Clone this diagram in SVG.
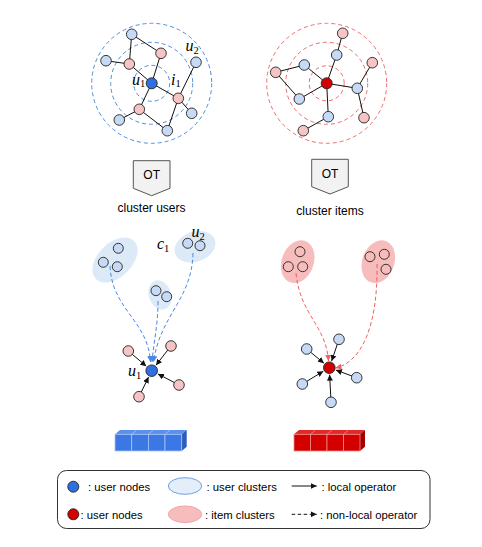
<svg xmlns="http://www.w3.org/2000/svg" width="482" height="547" viewBox="0 0 482 547">
<defs>
<style>
.bn{fill:#c6d9f5;stroke:#222;stroke-width:0.9}
.pn{fill:#f6c4c4;stroke:#222;stroke-width:0.9}
.un{fill:#2f6fe0;stroke:#222;stroke-width:0.9}
.rn{fill:#d40000;stroke:#222;stroke-width:0.9}
.cn{fill:none;stroke:#222;stroke-width:0.9}
.e{stroke:#111;stroke-width:1;fill:none}
.ea{stroke:#111;stroke-width:1;fill:none;marker-end:url(#ak)}
.bc{fill:none;stroke:#4d8fdb;stroke-width:1;stroke-dasharray:4 3}
.rc{fill:none;stroke:#f26b6b;stroke-width:1;stroke-dasharray:4 3}
.bd{fill:none;stroke:#4a86e8;stroke-width:1;stroke-dasharray:4 2.5;marker-end:url(#ab)}
.rd{fill:none;stroke:#f06060;stroke-width:1;stroke-dasharray:4 2.5;marker-end:url(#ar)}
.bel{fill:#dce9f7}
.rel{fill:#f7bcbc}
.t{font-family:"Liberation Sans",Arial,sans-serif;font-size:12px;fill:#000}
.lg{font-family:"Liberation Sans",Arial,sans-serif;font-size:11.3px;fill:#000}
.m{font-family:"Liberation Serif","Times New Roman",serif;font-style:italic;font-size:16px;fill:#000}
.s{font-style:normal;font-size:10.5px}
.ot{fill:#f2f2f2;stroke:#555;stroke-width:1}
</style>
<marker id="ak" viewBox="0 0 10 10" refX="10" refY="5" markerWidth="6" markerHeight="6" markerUnits="userSpaceOnUse" orient="auto"><path d="M0,0 L10,5 L0,10 z" fill="#111"/></marker>
<marker id="ab" viewBox="0 0 10 10" refX="10" refY="5" markerWidth="6" markerHeight="6" markerUnits="userSpaceOnUse" orient="auto"><path d="M0,0 L10,5 L0,10 z" fill="#4a86e8"/></marker>
<marker id="ar" viewBox="0 0 10 10" refX="10" refY="5" markerWidth="6" markerHeight="6" markerUnits="userSpaceOnUse" orient="auto"><path d="M0,0 L10,5 L0,10 z" fill="#f06060"/></marker>
</defs>
<rect width="482" height="547" fill="#fff"/>

<!-- top-left rings -->
<g id="tl-rings">
<circle class="bc" cx="151.7" cy="83.3" r="60"/>
<circle class="bc" cx="151.7" cy="83.3" r="41"/>
<circle class="bc" cx="151.7" cy="83.3" r="18"/>
</g>
<!-- top-right rings -->
<g id="tr-rings">
<circle class="rc" cx="326.7" cy="83.3" r="60"/>
<circle class="rc" cx="326.7" cy="83.3" r="41"/>
<circle class="rc" cx="326.7" cy="83.3" r="17.5"/>
</g>

<!-- bottom clusters -->
<g id="bl-cluster-a"><ellipse class="bel" cx="115" cy="260" rx="27" ry="17" transform="rotate(-45 115 260)"/>
<circle class="bn" cx="118.3" cy="248.3" r="5"/><circle class="bn" cx="103.3" cy="262.3" r="5"/><circle class="bn" cx="117.3" cy="266.7" r="5"/></g>
<g id="bl-cluster-c1"><ellipse class="bel" cx="160" cy="295" rx="11" ry="15" transform="rotate(-20 160 295)"/>
<circle class="bn" cx="156" cy="290.7" r="5"/><circle class="bn" cx="166.7" cy="296.7" r="5"/></g>
<g id="bl-cluster-u2"><ellipse class="bel" cx="195" cy="246.7" rx="21" ry="15" transform="rotate(-20 195 246.7)"/>
<circle class="bn" cx="187.7" cy="243.3" r="5"/><circle class="bn" cx="200" cy="245.7" r="5"/></g>
<g id="br-cluster-a"><ellipse class="rel" cx="297.7" cy="261.7" rx="16" ry="22" transform="rotate(20 297.7 261.7)"/>
<circle class="cn" cx="300" cy="251.7" r="5"/><circle class="cn" cx="288.3" cy="266.7" r="5"/><circle class="cn" cx="302.7" cy="266.7" r="5"/></g>
<g id="br-cluster-b"><ellipse class="rel" cx="378.3" cy="261.7" rx="16" ry="22" transform="rotate(20 378.3 261.7)"/>
<circle class="cn" cx="370" cy="256.7" r="5"/><circle class="cn" cx="384.3" cy="254.3" r="5"/><circle class="cn" cx="386" cy="269.3" r="5"/></g>

<g id="connectors">
<!-- top-left edges -->
<line class="e" x1="131.7" y1="34.3" x2="161" y2="53.3"/>
<line class="e" x1="131.7" y1="34.3" x2="129.3" y2="64"/>
<line class="e" x1="106" y1="60.7" x2="129.3" y2="64"/>
<line class="e" x1="129.3" y1="64" x2="151.7" y2="83.3"/>
<line class="e" x1="161" y1="53.3" x2="151.7" y2="83.3"/>
<line class="e" x1="151.7" y1="83.3" x2="178.3" y2="98.3"/>
<line class="e" x1="196" y1="62.3" x2="178.3" y2="98.3"/>
<line class="e" x1="178.3" y1="98.3" x2="191.7" y2="113.3"/>
<line class="e" x1="178.3" y1="98.3" x2="167.3" y2="130.7"/>
<line class="e" x1="139.3" y1="109.3" x2="151.7" y2="83.3"/>
<line class="e" x1="139.3" y1="109.3" x2="119.3" y2="120"/>
<line class="e" x1="139.3" y1="109.3" x2="167.3" y2="130.7"/>
<!-- top-right edges -->
<line class="e" x1="342.7" y1="33.3" x2="336.7" y2="55"/>
<line class="e" x1="336.7" y1="55" x2="326.7" y2="83.3"/>
<line class="e" x1="304.3" y1="65" x2="326.7" y2="83.3"/>
<line class="e" x1="275.7" y1="72.3" x2="304.3" y2="65"/>
<line class="e" x1="275.7" y1="72.3" x2="299.3" y2="99"/>
<line class="e" x1="299.3" y1="99" x2="326.7" y2="83.3"/>
<line class="e" x1="326.7" y1="83.3" x2="357.3" y2="88.3"/>
<line class="e" x1="357.3" y1="88.3" x2="372.3" y2="62.7"/>
<line class="e" x1="357.3" y1="88.3" x2="364" y2="117.7"/>
<line class="e" x1="326.7" y1="83.3" x2="328.3" y2="116.7"/>
<line class="e" x1="328.3" y1="116.7" x2="303.3" y2="130.7"/>
<!-- non-local (dashed) -->
<path class="bd" d="M110,266 C112,310 148,320 150.5,362"/>
<path class="bd" d="M158,301 C158,325 154,340 152,362"/>
<path class="bd" d="M193,253 C192,300 160,315 153.5,362"/>
<path class="rd" d="M296,273 C300,315 326,325 328.5,361"/>
<path class="rd" d="M377,264 C378,325 362,362 335.5,368"/>
<!-- local arrows bottom-left -->
<line class="ea" x1="132.1" y1="354.2" x2="146.3" y2="366.2"/>
<line class="ea" x1="167.9" y1="349.9" x2="156" y2="365.2"/>
<line class="ea" x1="174.6" y1="382.7" x2="157.9" y2="373.9"/>
<line class="ea" x1="141.2" y1="392.2" x2="148.6" y2="377"/>
<!-- local arrows bottom-right -->
<line class="ea" x1="310.6" y1="352.2" x2="323.9" y2="363.2"/>
<line class="ea" x1="337.4" y1="344" x2="331.6" y2="361.1"/>
<line class="ea" x1="352" y1="376" x2="335.9" y2="370.1"/>
<line class="ea" x1="306.6" y1="381.4" x2="323.3" y2="371.3"/>
<line class="ea" x1="330.8" y1="397.3" x2="329.6" y2="374.7"/>
</g>

<!-- top-left nodes -->
<g id="tl-b1"><circle class="bn" cx="131.7" cy="34.3" r="5.3"/></g>
<g id="tl-p1"><circle class="pn" cx="161" cy="53.3" r="5.3"/></g>
<g id="tl-b2"><circle class="bn" cx="106" cy="60.7" r="5.3"/></g>
<g id="tl-p2"><circle class="pn" cx="129.3" cy="64" r="5.3"/></g>
<g id="tl-u2"><circle class="bn" cx="196" cy="62.3" r="5.3"/></g>
<g id="tl-labels">
<text class="m" x="132" y="84.5">u<tspan class="s" dy="2">1</tspan></text>
<text class="m" x="171" y="84.5">i<tspan class="s" dy="2.5">1</tspan></text>
<text class="m" x="185.5" y="50.5">u<tspan class="s" dy="3">2</tspan></text>
</g>
<g id="tl-i1"><circle class="pn" cx="178.3" cy="98.3" r="5.3"/></g>
<g id="tl-p3"><circle class="pn" cx="139.3" cy="109.3" r="5.3"/></g>
<g id="tl-b3"><circle class="bn" cx="119.3" cy="120" r="5.3"/></g>
<g id="tl-b4"><circle class="bn" cx="191.7" cy="113.3" r="5.3"/></g>
<g id="tl-b5"><circle class="bn" cx="167.3" cy="130.7" r="5.3"/></g>
<g id="tl-u1"><circle class="un" cx="151.7" cy="83.3" r="5.5"/></g>

<!-- top-right nodes -->
<g id="tr-p1"><circle class="pn" cx="342.7" cy="33.3" r="5.3"/></g>
<g id="tr-b1"><circle class="bn" cx="336.7" cy="55" r="5.3"/></g>
<g id="tr-p2"><circle class="pn" cx="372.3" cy="62.7" r="5.3"/></g>
<g id="tr-b2"><circle class="bn" cx="304.3" cy="65" r="5.3"/></g>
<g id="tr-p3"><circle class="pn" cx="275.7" cy="72.3" r="5.3"/></g>
<g id="tr-b3"><circle class="bn" cx="357.3" cy="88.3" r="5.3"/></g>
<g id="tr-b4"><circle class="bn" cx="299.3" cy="99" r="5.3"/></g>
<g id="tr-b5"><circle class="bn" cx="328.3" cy="116.7" r="5.3"/></g>
<g id="tr-p4"><circle class="pn" cx="364" cy="117.7" r="5.3"/></g>
<g id="tr-p5"><circle class="pn" cx="303.3" cy="130.7" r="5.3"/></g>
<g id="tr-center"><circle class="rn" cx="326.7" cy="83.3" r="5.5"/></g>

<!-- OT boxes -->
<g id="ot-left"><polygon class="ot" points="133.3,160.7 170,160.7 170,188.3 151.7,195.7 133.3,188.3"/>
<text class="t" x="151.7" y="179" text-anchor="middle">OT</text>
<text class="t" x="151.5" y="212" text-anchor="middle">cluster users</text></g>
<g id="ot-right"><polygon class="ot" points="311.7,159.3 348.3,159.3 348.3,186.7 330,194 311.7,186.7"/>
<text class="t" x="330" y="178" text-anchor="middle">OT</text>
<text class="t" x="330" y="214.5" text-anchor="middle">cluster items</text></g>

<!-- bottom-left labels -->
<g id="bl-labels">
<text class="m" x="157" y="249">c<tspan class="s" dy="2.5">1</tspan></text>
<text class="m" x="191.5" y="237">u<tspan class="s" dy="3">2</tspan></text>
<text class="m" x="128" y="376">u<tspan class="s" dy="2.5">1</tspan></text>
</g>

<!-- bottom-left nodes -->
<g id="bl-p1"><circle class="pn" cx="128.3" cy="351" r="5.3"/></g>
<g id="bl-p2"><circle class="pn" cx="171" cy="346" r="5.3"/></g>
<g id="bl-p3"><circle class="pn" cx="179" cy="385" r="5.3"/></g>
<g id="bl-p4"><circle class="pn" cx="139" cy="396.7" r="5.3"/></g>
<g id="bl-u1"><circle class="un" cx="151.7" cy="370.7" r="5.8"/></g>

<!-- bottom-right nodes -->
<g id="br-b1"><circle class="bn" cx="306.7" cy="349" r="5.3"/></g>
<g id="br-b2"><circle class="bn" cx="339" cy="339.3" r="5.3"/></g>
<g id="br-b3"><circle class="bn" cx="356.7" cy="377.7" r="5.3"/></g>
<g id="br-b4"><circle class="bn" cx="302.3" cy="384" r="5.3"/></g>
<g id="br-b5"><circle class="bn" cx="331" cy="402.3" r="5.3"/></g>
<g id="br-center"><circle class="rn" cx="329.3" cy="367.7" r="5.8"/></g>

<!-- embedding bars -->
<g id="bar-blue">
<polygon points="115,434.3 120,430 186.7,430 181.7,434.3" fill="#5b90ee"/>
<polygon points="181.7,434.3 186.7,430 186.7,446.7 181.7,451" fill="#2d5cbf"/>
<g fill="#3b78e6" stroke="#a9c5f3" stroke-width="0.8">
<rect x="115" y="434.3" width="16.7" height="16.7"/>
<rect x="131.7" y="434.3" width="16.7" height="16.7"/>
<rect x="148.4" y="434.3" width="16.6" height="16.7"/>
<rect x="165" y="434.3" width="16.7" height="16.7"/>
</g>
<g stroke="#a9c5f3" stroke-width="0.8"><line x1="131.7" y1="434.3" x2="136.7" y2="430"/><line x1="148.4" y1="434.3" x2="153.4" y2="430"/><line x1="165" y1="434.3" x2="170" y2="430"/></g>
</g>
<g id="bar-red">
<polygon points="294,434.3 299,430 365,430 360,434.3" fill="#e02a2a"/>
<polygon points="360,434.3 365,430 365,446.7 360,451" fill="#a30000"/>
<g fill="#d40000" stroke="#f08a8a" stroke-width="0.8">
<rect x="294" y="434.3" width="16.5" height="16.7"/>
<rect x="310.5" y="434.3" width="16.5" height="16.7"/>
<rect x="327" y="434.3" width="16.5" height="16.7"/>
<rect x="343.5" y="434.3" width="16.5" height="16.7"/>
</g>
<g stroke="#f08a8a" stroke-width="0.8"><line x1="310.5" y1="434.3" x2="315.5" y2="430"/><line x1="327" y1="434.3" x2="332" y2="430"/><line x1="343.5" y1="434.3" x2="348.5" y2="430"/></g>
</g>

<!-- legend -->
<g id="legend">
<rect x="57.5" y="470.5" width="372.5" height="58" rx="9" fill="#fff" stroke="#333" stroke-width="1"/>
<circle class="un" cx="73.3" cy="486.7" r="5.5"/>
<text class="lg" x="88" y="490.5">: user nodes</text>
<circle class="rn" cx="73.3" cy="514.3" r="5.5"/>
<text class="lg" x="80.5" y="518.5">: user nodes</text>
<ellipse cx="185" cy="486" rx="16.7" ry="8.3" fill="#e3eefa" stroke="#6fa0e0" stroke-width="1"/>
<text class="lg" x="206.5" y="490.5">: user clusters</text>
<ellipse cx="185" cy="514.3" rx="16.7" ry="8.3" fill="#f7bcbc" stroke="#f2a5a5" stroke-width="1"/>
<text class="lg" x="205" y="518.5">: item clusters</text>
<line x1="291.7" y1="486" x2="316.7" y2="486" stroke="#111" stroke-width="1" marker-end="url(#ak)"/>
<text class="lg" x="321.5" y="490.5">: local operator</text>
<line x1="291.7" y1="514.3" x2="316.7" y2="514.3" stroke="#111" stroke-width="1" stroke-dasharray="3.5 2.5" marker-end="url(#ak)"/>
<text class="lg" x="320" y="518.5">: non-local operator</text>
</g>
</svg>
